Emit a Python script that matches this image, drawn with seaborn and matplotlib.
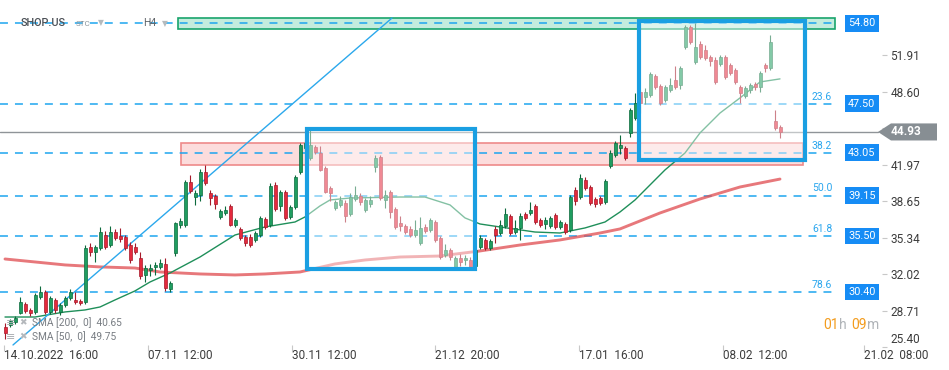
# -*- coding: utf-8 -*-
import numpy as np
import pandas as pd
import matplotlib
matplotlib.use('Agg')
import matplotlib.pyplot as plt
import matplotlib.transforms as mtransforms
from matplotlib.patches import Rectangle, Polygon
import seaborn as sns

# SHOP.US H4 candles (one entry per plotted bar)
opens = [27.22, 27.40, 27.67, 28.49, 29.31, 28.76, 28.58, 29.94, 30.40, 28.58,
         29.67, 28.58, 29.21, 29.85, 29.67, 29.58, 29.49, 34.48, 34.03, 34.39,
         35.57, 34.66, 35.84, 35.48, 35.39, 34.66, 34.48, 33.48, 31.94, 32.39,
         32.67, 32.67, 32.94, 30.67, 33.94, 36.48, 36.48, 40.39, 39.02, 39.21,
         41.29, 39.39, 39.11, 37.21, 37.57, 38.21, 36.48, 36.12, 35.39, 35.39,
         35.12, 35.57, 37.02, 36.48, 40.11, 38.21, 39.48, 37.21, 38.12, 41.29,
         43.47, 42.57, 43.57, 43.02, 41.66, 39.84, 38.03, 38.30, 38.48, 37.48,
         38.84, 39.11, 37.84, 38.39, 41.75, 42.66, 38.75, 39.48, 37.93, 36.66,
         36.39, 36.12, 35.57, 34.85, 36.30, 36.03, 36.75, 35.30, 33.76, 34.21,
         32.67, 33.48, 33.30, 33.30, 32.76, 34.48, 35.12, 34.39, 36.12, 35.75,
         36.39, 37.30, 35.84, 36.21, 37.48, 37.57, 38.21, 36.93, 36.57, 36.39,
         37.39, 36.30, 36.57, 36.03, 39.66, 39.02, 40.57, 39.93, 38.84, 38.93,
         38.57, 41.84, 42.84, 43.47, 43.47, 44.84, 46.20, 48.56, 48.11, 48.29,
         50.01, 49.10, 47.83, 48.74, 49.65, 49.20, 52.65, 54.46, 51.28, 52.92,
         52.37, 51.74, 51.47, 51.10, 51.74, 51.01, 50.56, 49.01, 48.20, 48.74,
         49.29, 49.01, 51.01, 50.74, 45.93, 45.38]
highs = [27.58, 27.94, 28.22, 29.94, 29.49, 28.94, 30.30, 30.94, 30.58, 30.03,
         29.85, 29.40, 30.03, 30.67, 30.40, 29.76, 34.66, 34.85, 34.66, 36.30,
         35.93, 36.39, 36.12, 36.21, 35.57, 34.94, 34.85, 34.03, 32.85, 32.94,
         33.12, 33.39, 33.48, 31.39, 36.75, 37.12, 40.57, 41.02, 39.66, 41.57,
         41.93, 39.66, 39.30, 37.93, 38.21, 38.39, 37.12, 36.30, 35.57, 35.66,
         35.93, 37.30, 37.21, 40.30, 40.39, 39.66, 39.66, 38.30, 41.02, 43.93,
         44.20, 45.11, 43.75, 43.66, 41.84, 40.02, 38.75, 39.11, 38.75, 39.39,
         40.02, 39.39, 38.93, 39.11, 42.84, 42.84, 39.66, 39.66, 38.12, 37.30,
         36.57, 36.39, 36.93, 37.21, 36.57, 37.12, 36.93, 35.48, 34.75, 34.39,
         33.66, 33.85, 33.76, 33.57, 34.39, 35.57, 35.30, 35.21, 36.39, 36.93,
         38.03, 37.48, 36.93, 37.57, 37.66, 38.57, 38.39, 37.12, 37.21, 37.30,
         37.57, 36.93, 36.75, 39.21, 39.93, 41.11, 40.84, 40.11, 39.02, 39.11,
         40.66, 43.29, 44.11, 44.65, 43.66, 47.11, 48.47, 48.74, 48.92, 50.38,
         50.20, 49.29, 49.20, 49.83, 50.92, 50.92, 54.65, 54.65, 54.83, 53.19,
         52.83, 51.92, 51.74, 51.92, 51.92, 51.19, 50.74, 49.20, 49.10, 49.38,
         49.47, 50.47, 51.19, 53.74, 46.93, 45.56]
lows = [26.12, 27.22, 27.49, 28.40, 28.49, 28.22, 28.40, 29.76, 28.40, 28.40,
        28.49, 28.31, 29.03, 29.67, 29.31, 29.21, 29.31, 33.66, 33.12, 34.21,
        34.30, 34.48, 35.12, 34.94, 34.21, 33.03, 33.85, 31.57, 31.30, 31.85,
        31.94, 32.48, 30.49, 30.40, 33.66, 36.21, 36.30, 39.39, 38.30, 38.66,
        40.11, 38.30, 37.93, 37.02, 37.39, 36.39, 36.30, 35.12, 34.57, 34.48,
        34.94, 35.39, 36.12, 36.30, 37.75, 37.75, 36.93, 37.02, 37.93, 41.11,
        43.29, 42.38, 42.93, 41.38, 39.39, 38.66, 37.84, 38.12, 36.75, 37.30,
        38.66, 38.30, 37.66, 38.12, 41.29, 38.75, 38.03, 37.12, 36.12, 35.93,
        35.66, 35.39, 35.39, 34.66, 35.75, 35.84, 34.94, 33.39, 33.57, 33.30,
        32.48, 32.76, 32.85, 32.48, 32.57, 34.30, 34.21, 34.21, 34.85, 35.57,
        36.21, 35.57, 35.66, 35.12, 36.93, 37.39, 36.57, 36.30, 36.12, 36.21,
        36.12, 36.12, 35.66, 35.84, 38.30, 38.84, 39.66, 38.30, 38.12, 38.30,
        38.39, 41.66, 42.66, 42.93, 42.38, 44.47, 46.02, 46.65, 47.47, 48.11,
        48.83, 47.38, 47.65, 48.56, 48.83, 48.83, 52.47, 52.92, 51.10, 51.56,
        51.47, 50.92, 49.29, 50.92, 49.74, 50.10, 49.29, 47.56, 48.02, 48.47,
        48.74, 48.56, 50.38, 50.56, 45.11, 44.38]
closes = [26.67, 27.76, 28.03, 29.49, 28.67, 28.49, 30.12, 30.40, 28.58, 29.85,
          28.76, 29.21, 29.85, 30.40, 29.49, 29.40, 34.39, 34.03, 34.48, 35.84,
          34.48, 35.84, 35.30, 35.21, 34.39, 33.30, 34.03, 31.85, 32.57, 32.57,
          32.85, 33.03, 30.76, 31.21, 36.66, 36.84, 40.39, 39.57, 39.39, 41.29,
          40.30, 38.93, 38.39, 37.75, 37.84, 36.48, 36.93, 35.30, 34.85, 34.66,
          35.75, 37.12, 36.30, 40.02, 37.93, 39.48, 37.12, 38.12, 40.84, 43.75,
          43.93, 43.75, 43.11, 41.48, 39.48, 39.39, 38.57, 38.75, 37.30, 39.02,
          39.21, 38.57, 38.75, 38.75, 42.57, 38.93, 39.21, 37.66, 36.30, 36.39,
          35.84, 35.57, 36.03, 36.21, 35.93, 36.93, 35.12, 33.57, 34.21, 33.57,
          33.48, 33.12, 33.48, 32.67, 34.21, 35.30, 34.39, 35.03, 35.57, 36.48,
          37.48, 35.75, 36.21, 37.30, 37.12, 37.84, 36.75, 36.48, 36.93, 37.12,
          36.30, 36.75, 35.84, 39.02, 38.66, 40.75, 39.84, 38.48, 38.39, 38.48,
          40.48, 43.02, 43.93, 43.75, 42.57, 46.93, 47.56, 47.56, 48.56, 50.20,
          49.01, 47.56, 49.01, 49.20, 49.01, 50.74, 54.46, 53.10, 52.65, 51.74,
          51.65, 51.38, 49.47, 51.74, 49.92, 50.29, 49.47, 48.47, 48.92, 49.20,
          49.01, 50.29, 50.74, 53.10, 45.29, 44.93]

# moving averages read at some bars
sma200_bar = [0, 6, 12, 19, 26, 31, 39, 46, 52, 59, 66, 72, 79, 87, 95, 103, 111, 119, 123, 131, 139, 147, 155]
sma200_val = [33.39, 33.12, 32.85, 32.67, 32.57, 32.21, 32.03, 31.94, 32.03, 32.21, 32.94, 33.30,
              33.57, 33.66, 34.12, 34.66, 35.12, 35.75, 36.12, 37.57, 38.84, 39.93, 40.65]
sma50_bar = [0, 6, 12, 16, 19, 22, 26, 29, 33, 39, 46, 52, 58, 60, 63, 65, 69, 79, 84, 89, 92, 95,
             99, 106, 111, 116, 120, 123, 126, 132, 136, 139, 143, 147, 151, 155]
sma50_val = [28.12, 28.12, 28.58, 28.76, 29.03, 29.67, 30.49, 31.30, 32.12, 33.57, 35.57, 36.30,
             36.75, 37.21, 38.21, 38.75, 38.93, 39.02, 39.02, 38.30, 37.12, 36.57, 36.30, 35.84,
             35.75, 36.21, 36.75, 37.66, 38.75, 41.48, 43.02, 44.84, 46.65, 48.02, 49.47, 49.75]

# fibonacci retracement
fib_pct = ['23.6', '38.2', '50.0', '61.8', '78.6']
fib_price = [47.50, 43.05, 39.15, 35.50, 30.40]
top_level = 54.80
last_price = 44.93

# drawings: [bar from, bar to, price low, price high]
supply_zone = [34.6, 166.0, 54.26, 55.31]
demand_zone = [35.2, 159.6, 41.93, 43.93]
box_1 = [60.4, 93.9, 32.48, 45.24]
box_2 = [126.7, 160.0, 42.34, 55.05]
trend_bar = [1.6, 77.4]
trend_price = [25.58, 55.28]

date_ticks = [-0.2, 28.5, 57.4, 86.0, 114.8, 143.6, 171.8]
date_labels = ['14.10.2022  16:00', '07.11  12:00', '30.11  12:00', '21.12  20:00',
               '17.01  16:00', '08.02  12:00', '21.02  08:00']
price_ticks = ['25.40', '28.71', '32.02', '35.34', '38.65', '41.97', '45.29', '48.60', '51.91']

sns.set_theme(style='white')
plt.rcParams['font.family'] = ['Roboto', 'DejaVu Sans']

df = pd.DataFrame({'open': opens, 'high': highs, 'low': lows, 'close': closes})
df['bar'] = np.arange(len(df))
df['up'] = df['close'] >= df['open']

W, H = 949, 370
fig = plt.figure(figsize=(W / 100, H / 100), dpi=100)
fig.patch.set_facecolor('white')
ax = fig.add_axes([0, 22.5 / H, 882 / W, 347.5 / H])
ax.set_facecolor('white')
ax.set_xlim(-1, 175.4)
ax.set_ylim(25.35, 56.916)
trans = mtransforms.blended_transform_factory(ax.transAxes, ax.transData)


def px(x, y):
    return x / W, 1 - y / H


# zones
ax.add_patch(Rectangle((supply_zone[0], supply_zone[2]), supply_zone[1] - supply_zone[0],
                       supply_zone[3] - supply_zone[2], fc='#c4ecdd', ec='#19a46c', lw=1.2, zorder=1))
ax.add_patch(Rectangle((demand_zone[0], demand_zone[2]), demand_zone[1] - demand_zone[0],
                       demand_zone[3] - demand_zone[2], fc='#fcdcdc', ec='#ee8a8a', lw=1.2, zorder=1))

# fib levels
for p in fib_price + [top_level]:
    ax.axhline(p, xmin=0, xmax=837 / 882, color='#1ea5ef', lw=1.1, ls=(0, (5.2, 4.6)), zorder=1.5)
for pct, p in zip(fib_pct, fib_price):
    ax.annotate(pct, xy=(161.4, p), xytext=(0, 1.5), textcoords='offset points',
                ha='left', va='bottom', fontsize=7.5, color='#2aa6ee', zorder=6)
for p in fib_price + [top_level]:
    ax.text(848 / 882, p, f'{p:.2f}', transform=trans, ha='left', va='center', fontsize=7.8,
            color='white', zorder=7, bbox=dict(boxstyle='square,pad=0.3', fc='#168cf5', ec='none'))

# last price line
ax.axhline(last_price, xmin=0, xmax=878 / 882, color='#8f9498', lw=1.0, zorder=2, clip_on=False)

# moving averages
sns.lineplot(x=sma200_bar, y=sma200_val, ax=ax, color='#e04b4f', linewidth=2.1, alpha=0.75, zorder=2)
sns.lineplot(x=sma50_bar, y=sma50_val, ax=ax, color='#1f8f5a', linewidth=1.0, zorder=2)

# trend line
ax.plot(trend_bar, trend_price, color='#2ba8ec', lw=1.0, zorder=2.2)

# candles
body_lo = df[['open', 'close']].min(axis=1)
body_h = (df['close'] - df['open']).abs().clip(lower=0.05)
face = np.where(df['up'], '#1f9d60', '#e42a3d')
edge = np.where(df['up'], '#0c6a3c', '#a51a2a')
ax.vlines(df['bar'], df['low'], df['high'], colors=edge, linewidth=0.8, zorder=3)
ax.bar(df['bar'], body_h, bottom=body_lo, width=0.6, color=face, edgecolor=edge,
       linewidth=0.5, zorder=4)

# highlight boxes
for b in (box_1, box_2):
    ax.add_patch(Rectangle((b[0], b[2]), b[1] - b[0], b[3] - b[2], fc=(1, 1, 1, 0.45),
                           ec='#1a9fe2', lw=3, zorder=5))

# last price tag
tag = Polygon([(878 / 882, last_price), (891 / 882, last_price + 0.775),
               (937 / 882, last_price + 0.775), (937 / 882, last_price - 0.775),
               (891 / 882, last_price - 0.775)], closed=True, transform=trans,
              fc='#878e93', ec='none', clip_on=False, zorder=8)
ax.add_patch(tag)
ax.text(891 / 882, last_price, f'{last_price:.2f}', transform=trans, color='white',
        fontsize=8.5, fontweight='bold', ha='left', va='center', zorder=9, clip_on=False)

# axes
ax.yaxis.tick_right()
ax.set_yticks([float(t) for t in price_ticks])
ax.set_yticklabels(price_ticks)
ax.tick_params(axis='y', right=True, left=False, length=3.6, width=0.8, color='#c8c8c8',
               pad=2.4, labelsize=8.5, labelcolor='#3c3c3c')
ax.set_xticks(date_ticks)
ax.set_xticklabels(date_labels, ha='left')
ax.tick_params(axis='x', bottom=True, direction='inout', length=5, width=0.8, color='#c8c8c8',
               pad=-1.5, labelsize=8.5, labelcolor='#3c3c3c')
for s in ax.spines.values():
    s.set_visible(False)
ax.set_xlabel('')
ax.set_ylabel('')

# the lowest price label sits a little higher, clear of the date row
lift = mtransforms.ScaledTranslation(0, -0 / 72 + 6.5 / 72, fig.dpi_scale_trans)
for lbl in ax.get_yticklabels():
    if lbl.get_text() == price_ticks[0]:
        lbl.set_transform(lbl.get_transform() + lift)

# header
fig.text(*px(21, 23.3), 'SHOP.US', fontsize=7.8, fontweight='medium', color='#4a4f55', va='center')
fig.text(*px(76, 24), 'STC', fontsize=5.8, color='#8a9399', va='center')
fig.text(*px(98, 23), '▼', fontsize=5.5, color='#b5babd', va='center')
fig.text(*px(143, 23.3), 'H4', fontsize=7.5, color='#5f6368', va='center')
fig.text(*px(162, 23.5), '▼', fontsize=5.5, color='#b5babd', va='center')

# indicator legend
for y, label in ((323, 'SMA [200,  0]  40.65'), (337, 'SMA [50,  0]  49.75')):
    fig.text(*px(6, y), '≡', fontsize=8, color='#a9adb1', va='center')
    fig.text(*px(19, y), '✖', fontsize=6.5, color='#b4b8bc', va='center')
    fig.text(*px(32, y), label, fontsize=7.3, color='#777c82', va='center')

# countdown
fig.text(*px(823, 325), '01', fontsize=10, color='#f39c1e', va='center')
fig.text(*px(839, 325), 'h', fontsize=10, color='#b0b4b8', va='center')
fig.text(*px(851, 325), '09', fontsize=10, color='#f39c1e', va='center')
fig.text(*px(867, 325), 'm', fontsize=10, color='#b0b4b8', va='center')

fig.savefig('out.png', dpi=100, facecolor='white')
